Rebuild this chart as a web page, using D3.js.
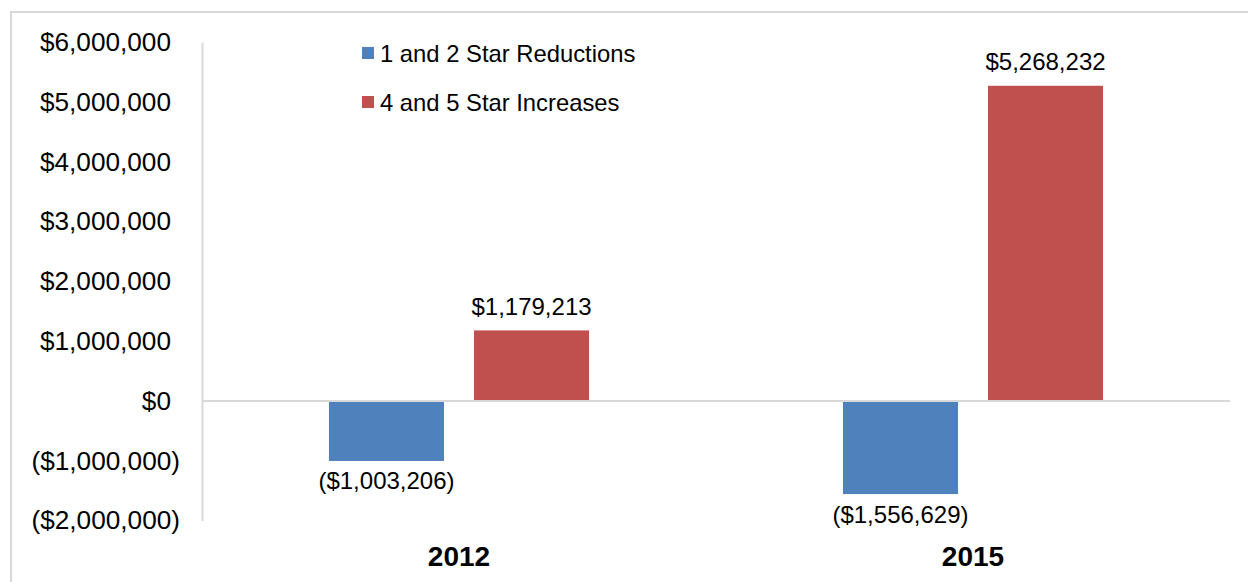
<!DOCTYPE html>
<html><head><meta charset="utf-8">
<script src="https://cdn.jsdelivr.net/npm/d3@7"></script>
<style>body{margin:0;background:#fff}svg{display:block;font-family:"Liberation Sans",Arial,sans-serif}</style>
</head><body><svg id="c" width="1248" height="582"></svg>
<script>
const categories = ["2012", "2015"];
const seriesNames = ["1 and 2 Star Reductions", "4 and 5 Star Increases"];
const reductions = [-1003206, -1556629];
const increases = [1179213, 5268232];
const tickValues = [-2000000, -1000000, 0, 1000000, 2000000, 3000000, 4000000, 5000000, 6000000];
const colors = ["#4F81BD", "#C0504D"];

const svg = d3.select("#c");
const L = 202, R = 1230, T = 42, B = 520.6;

// frame
svg.append("rect").attr("x", 11).attr("y", 12).attr("width", 1260).attr("height", 600)
  .attr("fill", "none").attr("stroke", "#d9d9d9").attr("stroke-width", 2);

const y = d3.scaleLinear().domain([-2000000, 6000000]).range([B, T]);
const x0 = d3.scaleBand().domain(categories).range([L, R]).paddingInner(0.494).paddingOuter(0.247);
const x1 = d3.scaleBand().domain(seriesNames).range([0, x0.bandwidth()]).paddingInner(0.207);

const fmt = v => v < 0 ? "($" + d3.format(",")(-v) + ")" : "$" + d3.format(",")(v);

// y axis
const yAxis = d3.axisLeft(y).tickValues(tickValues).tickFormat(fmt).tickSize(0).tickPadding(31);
const ga = svg.append("g").attr("transform", `translate(${L},0)`).call(yAxis);
ga.select(".domain").attr("stroke", "#d9d9d9").attr("stroke-width", 2);
ga.selectAll("text").attr("font-size", 26.2).attr("fill", "#000")
  .attr("dx", d => d < 0 ? 9 : 0)
  .attr("font-family", '"Liberation Sans",Arial,sans-serif');

// bars
const data = categories.map((c, i) => ({c, vals: [reductions[i], increases[i]]}));
const groups = svg.selectAll("g.grp").data(data).join("g").attr("class", "grp")
  .attr("transform", d => `translate(${x0(d.c)},0)`);
groups.selectAll("rect").data(d => d.vals.map((v, j) => ({v, s: seriesNames[j], j}))).join("rect")
  .attr("x", d => x1(d.s)).attr("width", x1.bandwidth())
  .attr("y", d => y(Math.max(0, d.v))).attr("height", d => Math.abs(y(d.v) - y(0)))
  .attr("fill", d => colors[d.j]);
groups.selectAll("text.lbl").data(d => d.vals.map((v, j) => ({v, s: seriesNames[j], j}))).join("text")
  .attr("class", "lbl")
  .attr("x", d => x1(d.s) + x1.bandwidth() / 2)
  .attr("y", d => d.v >= 0 ? y(d.v) - 24 : y(d.v) + 20)
  .attr("text-anchor", "middle").attr("dominant-baseline", "central")
  .attr("font-size", 24).attr("fill", "#000").text(d => fmt(d.v));

// zero line
svg.append("line").attr("x1", L).attr("x2", R).attr("y1", y(0)).attr("y2", y(0))
  .attr("stroke", "#d9d9d9").attr("stroke-width", 2);

// category labels
const xAxis = d3.axisBottom(x0).tickSize(0).tickPadding(0);
const gx = svg.append("g").attr("transform", `translate(0,556)`).call(xAxis);
gx.select(".domain").remove();
gx.selectAll("text").attr("font-size", 28).attr("font-weight", "bold").attr("fill", "#000")
  .attr("dy", null).attr("dominant-baseline", "central").attr("font-family", '"Liberation Sans",Arial,sans-serif');

// legend
const lg = svg.append("g").selectAll("g").data(seriesNames).join("g")
  .attr("transform", (d, i) => `translate(362,${53 + i * 49})`);
lg.append("rect").attr("x", 0).attr("y", -6).attr("width", 12).attr("height", 12).attr("fill", (d, i) => colors[i]);
lg.append("text").attr("x", 18).attr("y", 0).attr("dominant-baseline", "central")
  .attr("font-size", 23.8).attr("fill", "#000").text(d => d);
</script></body></html>
